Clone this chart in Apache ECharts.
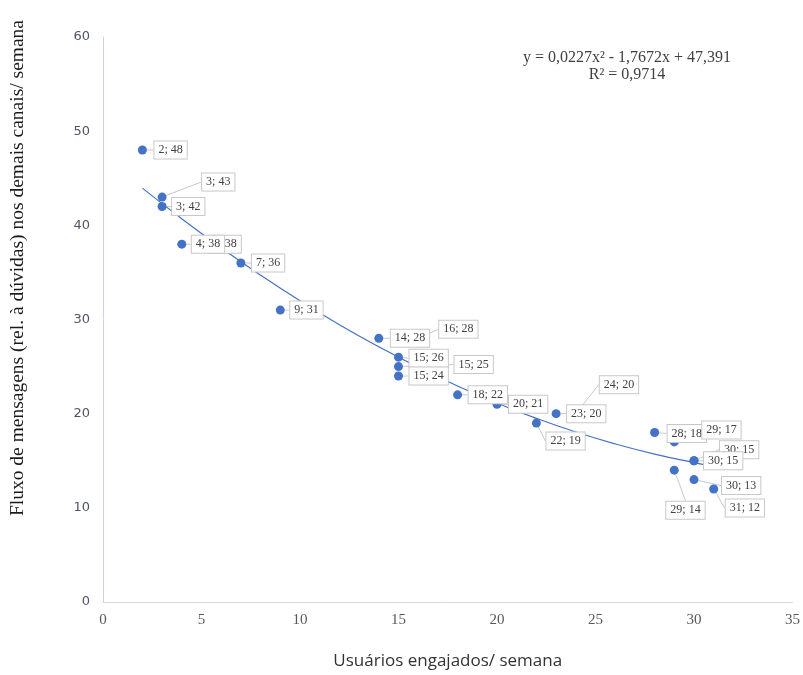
<!DOCTYPE html>
<html><head><meta charset="utf-8">
<script src="https://cdn.jsdelivr.net/npm/echarts@6/dist/echarts.min.js"></script>
<style>html,body{margin:0;padding:0;background:#fff;overflow:hidden}#c{width:803px;height:675px}</style>
</head><body><div id="c"></div>
<script>
// Data (usuários engajados, fluxo de mensagens)
const xValues = [2, 3, 3, 5, 4, 7, 9, 16, 14, 15, 15, 15, 18, 20, 22, 24, 23, 28, 29, 30, 30, 29, 30, 31];
const yValues = [48, 43, 42, 38, 38, 36, 31, 28, 28, 26, 25, 24, 22, 21, 19, 20, 20, 18, 17, 15, 15, 14, 13, 12];
const pointLabels = ['2; 48','3; 43','3; 42','5; 38','4; 38','7; 36','9; 31','16; 28','14; 28','15; 26','15; 25','15; 24','18; 22','20; 21','22; 19','24; 20','23; 20','28; 18','29; 17','30; 15','30; 15','29; 14','30; 13','31; 12'];
// Trendline (y = 0,0227x² - 1,7672x + 47,391)
const trendX = [2, 4, 6, 8, 10, 12, 14, 16, 18, 20, 22, 24, 26, 28, 30, 31];
const trendY = [43.95, 40.69, 37.61, 34.71, 31.99, 29.45, 27.10, 24.93, 22.94, 21.13, 19.50, 18.05, 16.79, 15.71, 14.81, 14.42];
const xTicks = [0, 5, 10, 15, 20, 25, 30, 35];
const yTicks = [0, 10, 20, 30, 40, 50, 60];
const equationText = 'y = 0,0227x² - 1,7672x + 47,391';
const r2Text = 'R² = 0,9714';

// label placement offsets (box left edge, box centre) relative to the point, px
const labelOffsets = [
  [12,0],[40,-15],[10,0],[7,0],[10,0],[11,0],[10,0],[21,-9],[12,0],[11,1],[56,-2],[11,0],
  [11,0],[12,0],[10,18],[24,-29],[11,0],[13,1],[28,-12],[26,-11],[10,0],[-8,40],[28,6],[12,19]
];

const scatterData = xValues.map((x, i) => [x, yValues[i]]);
const trendData = trendX.map((x, i) => [x, trendY[i]]);

const chart = echarts.init(document.getElementById('c'), null, {renderer: 'canvas', width: 803, height: 675});
chart.setOption({
  animation: false,
  backgroundColor: '#ffffff',
  grid: {left: 103, right: 8, top: 37, bottom: 69, containLabel: false},
  xAxis: {
    type: 'value', min: xTicks[0], max: xTicks[xTicks.length - 1], interval: 5,
    axisLine: {show: true, lineStyle: {color: '#d9d9d9', width: 1}},
    axisTick: {show: false}, splitLine: {show: false},
    axisLabel: {fontFamily: 'Liberation Serif', fontSize: 15, color: '#595959', margin: 11},
    name: 'Usuários engajados/ semana', nameLocation: 'middle', nameGap: 51,
    nameTextStyle: {fontFamily: 'Open Sans', fontSize: 17, color: '#333333'}
  },
  yAxis: {
    type: 'value', min: yTicks[0], max: yTicks[yTicks.length - 1], interval: 10,
    axisLine: {show: true, lineStyle: {color: '#c9d5e2', width: 1}},
    axisTick: {show: false}, splitLine: {show: false},
    axisLabel: {fontFamily: 'DejaVu Sans', fontSize: 13, color: '#4d5566', margin: 13}
  },
  graphic: [
    {type: 'text', x: 18, y: 268, rotation: Math.PI / 2,
     style: {text: 'Fluxo de mensagens (rel. à dúvidas) nos demais canais/ semana',
       font: '19.5px "Liberation Serif"', fill: '#1a1a1a', textAlign: 'center', textVerticalAlign: 'middle'}},
    {type: 'text', x: 627, y: 58,
     style: {text: equationText, font: '16px "Liberation Serif"', fill: '#404040', textAlign: 'center', textVerticalAlign: 'middle'}},
    {type: 'text', x: 627, y: 75,
     style: {text: r2Text, font: '16px "Liberation Serif"', fill: '#404040', textAlign: 'center', textVerticalAlign: 'middle'}}
  ],
  series: [
    {
      type: 'line', data: trendData, smooth: true, showSymbol: false, symbol: 'none',
      lineStyle: {color: '#4472c4', width: 1.2}, z: 1, silent: true
    },
    {
      type: 'scatter', data: scatterData, symbolSize: 9, z: 2,
      itemStyle: {color: '#4472c4', opacity: 1},
      label: {
        show: true,
        formatter: p => pointLabels[p.dataIndex],
        fontFamily: 'Liberation Serif', fontSize: 12, color: '#404040',
        backgroundColor: '#ffffff', borderColor: '#c8c8c8', borderWidth: 1,
        padding: [3, 4, 2, 4], position: 'right'
      },
      labelLine: {show: true, lineStyle: {color: '#c8c8c8', width: 1}},
      labelLayout: function (p) {
        const o = labelOffsets[p.dataIndex];
        const cx = p.rect.x + p.rect.width / 2;
        const cy = p.rect.y + p.rect.height / 2;
        return {x: cx + o[0], y: cy + o[1], align: 'left', verticalAlign: 'middle', hideOverlap: false};
      }
    }
  ]
});
</script></body></html>
